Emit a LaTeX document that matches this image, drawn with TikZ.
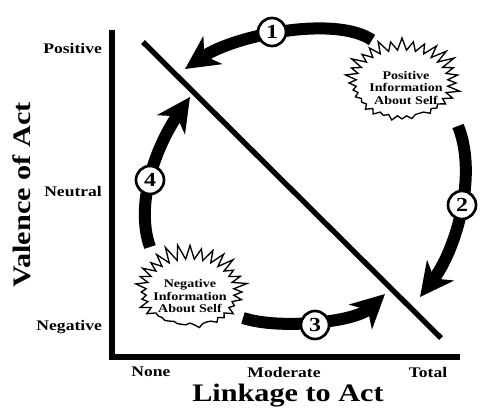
\documentclass[tikz,border=0pt]{standalone}
\usepackage{fontspec}
\setmainfont{Liberation Serif}[FakeStretch=1.2]
\usetikzlibrary{arrows.meta}

\tikzset{
	axisline/.style={line width=0.17cm},
	cyclearrow/.style={line width=0.36cm, -{Stealth[length=1.0cm,width=1.0cm,inset=0.3cm]}},
	numdisc/.style={circle, draw, line width=0.08cm, fill=white, minimum size=0.84cm, inner sep=0pt, font=\bfseries\fontsize{17}{17}\selectfont},
	ticklabel/.style={font=\bfseries\fontsize{12.5}{14}\selectfont},
	axistitle/.style={font=\bfseries\fontsize{21.5}{24}\selectfont},
	bursttext/.style={align=center, inner sep=0pt, font=\bfseries\fontsize{10}{11}\selectfont},
	burstline/.style={line width=0.04cm, fill=white}
}

\begin{document}
\begin{tikzpicture}[x=0.03cm, y=-0.03cm]
				\useasboundingbox (0,0) rectangle (484,416);
				\pgfmathsetseed{11}

				% axes
				\coordinate (ytop) at (112,30);
				\coordinate (origin) at (112,357);
				\coordinate (xend) at (460,357);
				\draw [axisline] (ytop)--(origin)--(xend);

				\node [ticklabel, anchor=east] (positive) at (106,48) {Positive};
				\node [ticklabel, anchor=east] (neutral) at (106,192) {Neutral};
				\node [ticklabel, anchor=east] (negative) at (106,327) {Negative};
				\node [ticklabel] (none) at (151,372) {None};
				\node [ticklabel] (moderate) at (284,372) {Moderate};
				\node [ticklabel] (total) at (428,372) {Total};
				\node [axistitle, rotate=90] (valence) at (22,195) {Valence of Act};
				\node [axistitle] (linkage) at (288,396) {Linkage to Act};

				% diagonal
				\coordinate (D1) at (143,42);
				\coordinate (D2) at (441,338);
				\draw [line width=0.16cm] (D1)--(D2);

				% cycle
				\coordinate (A1) at (372,40);
				\coordinate (B1) at (185,69);
				\coordinate (A2) at (458,126);
				\coordinate (B2) at (420,297);
				\coordinate (A3) at (243,318);
				\coordinate (B3) at (385,294);
				\coordinate (A4) at (150,247);
				\coordinate (B4) at (190,97);
				\draw [cyclearrow] (A1) .. controls (335,15) and (235,35) .. (B1);
				\draw [cyclearrow] (A2) .. controls (478,175) and (456,250) .. (B2);
				\draw [cyclearrow] (A3) .. controls (280,330) and (355,322) .. (B3);
				\draw [cyclearrow] (A4) .. controls (135,205) and (155,148) .. (B4);

				% bursts
				\begin{scope}[shift={(402,83)}]
					\draw [burstline] (0:54) \foreach \k [evaluate=\k as \f using {isodd(\k) ? 1 : 1.1+0.22*rnd-0.16*sin(\k*5.625)}] in {1,...,63} { -- (\k*5.625:{\f*46} and {\f*33}) } -- cycle;
				\end{scope}
				\begin{scope}[shift={(190,292)}]
					\draw [burstline] (0:52) \foreach \k [evaluate=\k as \f using {isodd(\k) ? 1 : 1.1+0.22*rnd-0.16*sin(\k*5.625)}] in {1,...,63} { -- (\k*5.625:{\f*44} and {\f*33}) } -- cycle;
				\end{scope}
				\node [bursttext] (posinfo) at (406,88) {Positive\\Information\\About Self};
				\node [bursttext] (neginfo) at (190,296) {Negative\\Information\\About Self};

				\node [numdisc] (n1) at (272,32) {1};
				\node [numdisc] (n2) at (462,205) {2};
				\node [numdisc] (n3) at (315,325) {3};
				\node [numdisc] (n4) at (150,180) {4};

			\end{tikzpicture}
\end{document}
